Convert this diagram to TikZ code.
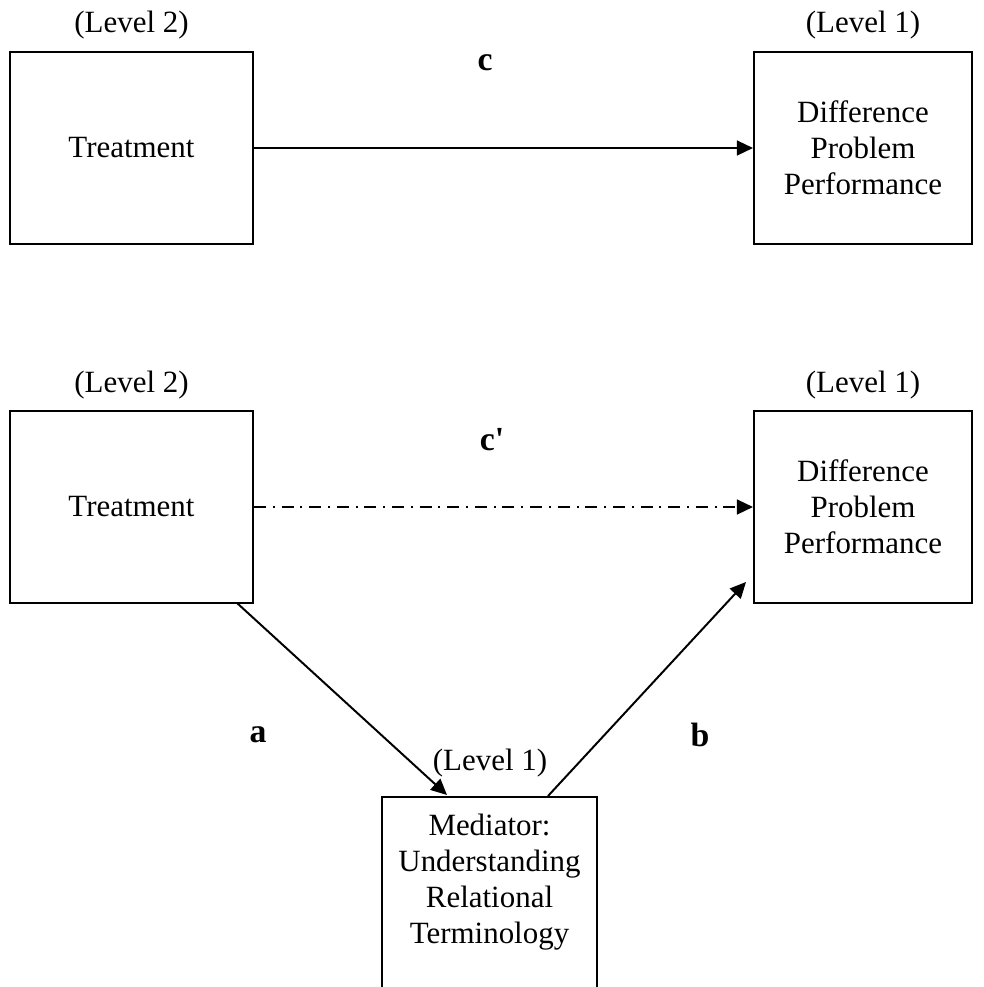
\documentclass[tikz,border=0pt]{standalone}
\usepackage{fontspec}
\setmainfont{Liberation Serif}
\usetikzlibrary{arrows.meta}

\begin{document}
\begin{tikzpicture}[x=0.025cm,y=-0.025cm,
        font=\fontsize{22}{25.5}\selectfont,
        box/.style={draw,line width=1.4pt,rectangle,align=center,inner sep=0pt},
        lvl/.style={inner sep=0pt},
        path/.style={line width=1.4pt,-{Triangle[length=0.4cm,width=0.37cm]}},
        pathlbl/.style={inner sep=0pt,font=\fontsize{24}{28}\selectfont\bfseries}]
    \useasboundingbox (0,0) rectangle (984,987);
    % total effect
    \node [box,minimum width=6.075cm,minimum height=4.8cm] (treatA) at (131.5,148) {Treatment};
    \node [box,minimum width=5.45cm,minimum height=4.8cm] (diffA) at (863,148) {Difference\\Problem\\Performance};
    \node [lvl] (lvlTA) at (131.5,25) {(Level 2)};
    \node [lvl] (lvlDA) at (863,25) {(Level 1)};
    \draw [path] (treatA.east) -- (diffA.west);
    \node [pathlbl] (cA) at (485,63) {c};
    % mediated effect
    \node [box,minimum width=6.075cm,minimum height=4.8cm] (treatB) at (131.5,507) {Treatment};
    \node [box,minimum width=5.45cm,minimum height=4.8cm] (diffB) at (863,507) {Difference\\Problem\\Performance};
    \node [lvl] (lvlTB) at (131.5,385) {(Level 2)};
    \node [lvl] (lvlDB) at (863,385) {(Level 1)};
    \draw [path,dash pattern=on 0.3cm off 0.17cm on 0.05cm off 0.17cm] (treatB.east) -- (diffB.west);
    \node [pathlbl] (cB) at (492,440) {c\textquotesingle};
    % mediator, box runs off the bottom
    \node [box,minimum width=5.375cm,minimum height=6cm,anchor=north] (med) at (489.5,796) {};
    \node [lvl,align=center,anchor=north] (medtxt) at (489.5,814) {Mediator:\\Understanding\\Relational\\Terminology};
    \node [lvl] (lvlM) at (490,763) {(Level 1)};
    \coordinate (aStart) at (237,603);
    \coordinate (aEnd) at (447,795);
    \coordinate (bStart) at (548,796);
    \coordinate (bEnd) at (746,582);
    \draw [path] (aStart) -- (aEnd);
    \draw [path] (bStart) -- (bEnd);
    \node [pathlbl] (aLbl) at (258,735) {a};
    \node [pathlbl] (bLbl) at (700,735) {b};
\end{tikzpicture}
\end{document}
